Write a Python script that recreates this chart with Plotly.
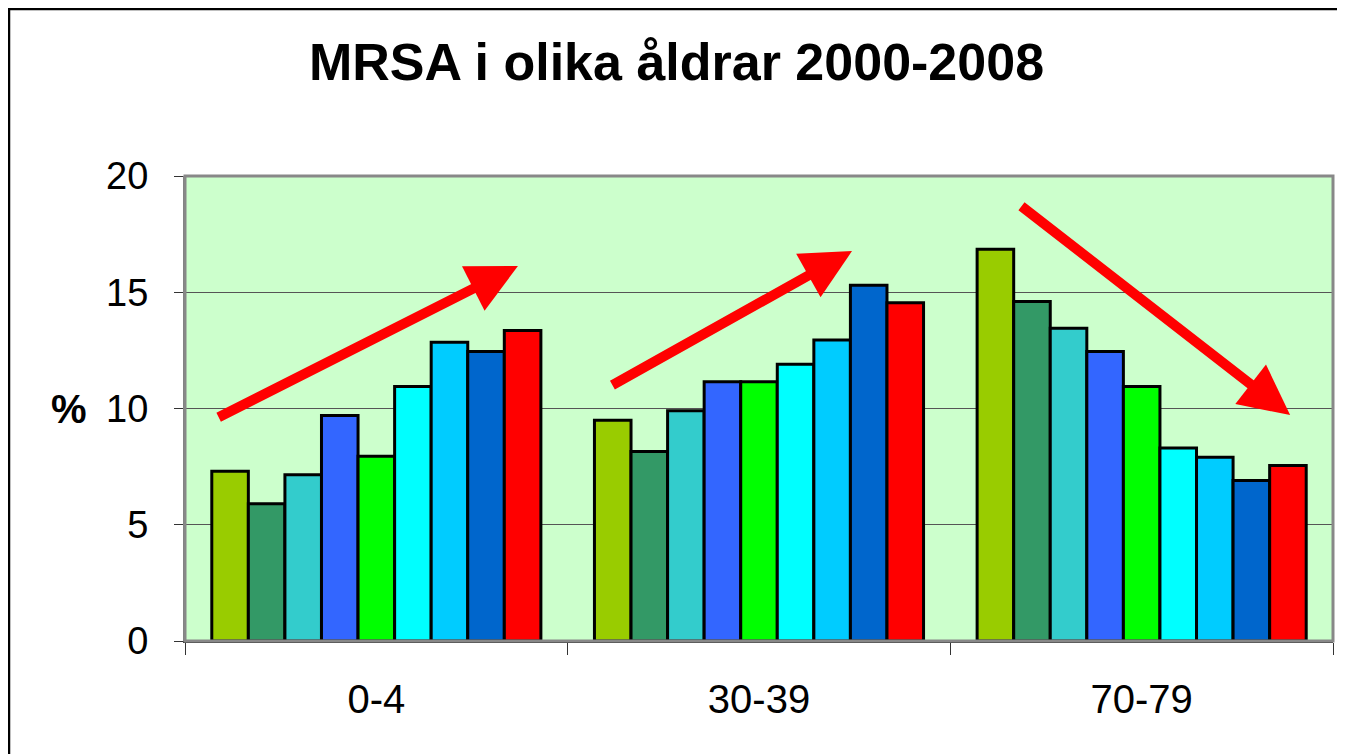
import plotly.graph_objects as go

categories = ["0-4", "30-39", "70-79"]
years = ["2000", "2001", "2002", "2003", "2004", "2005", "2006", "2007", "2008"]
v2000 = [7.3, 9.5, 16.85]
v2001 = [5.9, 8.15, 14.6]
v2002 = [7.15, 9.9, 13.45]
v2003 = [9.7, 11.15, 12.45]
v2004 = [7.95, 11.15, 10.95]
v2005 = [10.95, 11.9, 8.3]
v2006 = [12.85, 12.95, 7.9]
v2007 = [12.45, 15.3, 6.9]
v2008 = [13.35, 14.55, 7.55]
series = [v2000, v2001, v2002, v2003, v2004, v2005, v2006, v2007, v2008]
colors = ["#99CC00", "#339966", "#33CCCC", "#3366FF", "#00FF00",
          "#00FFFF", "#00CCFF", "#0066CC", "#FF0000"]

FONT = "Liberation Sans, Arial, sans-serif"

fig = go.Figure()
for name, vals, col in zip(years, series, colors):
    fig.add_trace(go.Bar(x=categories, y=vals, name=name,
                         marker=dict(color=col, line=dict(color="black", width=3))))

# page is offset by the 8px body margin, so work in figure coords
OFF = 8
W, H = 1345 - OFF, 754 - OFF
L, T = 185 - OFF, 176 - OFF
R = W - (1333 - OFF)
B = H - (641 - OFF)
pw, ph = W - L - R, H - T - B

fig.update_layout(
    width=W, height=H,
    margin=dict(l=L, r=R, t=T, b=B),
    paper_bgcolor="white", plot_bgcolor="#CCFFCC",
    barmode="group", bargap=0.14, bargroupgap=0,
    showlegend=False,
    title=dict(text="<b>MRSA i olika åldrar 2000-2008</b>", x=0.5, xanchor="center",
               y=1 - (62 - OFF) / H, yanchor="middle",
               font=dict(family=FONT, size=52, color="black")),
    font=dict(family=FONT, color="black"),
)
fig.update_yaxes(range=[0, 20], tickvals=[0, 5, 10, 15, 20], showgrid=True,
                 gridcolor="#555555", gridwidth=1, zeroline=False,
                 ticks="outside", ticklen=9, tickcolor="#333333",
                 showline=True, linecolor="#808080", linewidth=2,
                 tickfont=dict(family=FONT, size=38, color="black"), ticklabelstandoff=18)
fig.update_xaxes(range=[-0.5, 2.5], tickson="boundaries", ticks="outside", ticklen=12,
                 tickcolor="#333333", showline=True, linecolor="#333333", linewidth=2,
                 tickfont=dict(family=FONT, size=40, color="black"), ticklabelstandoff=22)

# plot-area border (gray) and outer frame (black, at the figure edge)
fig.add_shape(type="rect", xref="paper", yref="paper", x0=0, y0=0, x1=1, y1=1,
              line=dict(color="#888888", width=3), layer="above")
fig.add_shape(type="rect", xref="paper", yref="paper",
              x0=(1 - L) / pw, y0=-0.5, x1=1.5, y1=(H - B - 1) / ph,
              line=dict(color="black", width=2.5), layer="above")

fig.add_annotation(text="<b>%</b>", xref="paper", yref="y", x=(69 - 185) / pw, y=10,
                   xanchor="center", yanchor="middle",
                   showarrow=False, font=dict(family=FONT, size=40, color="black"))

arrows = [(-0.416, 9.59, 0.370, 16.13), (0.613, 10.97, 1.243, 16.77), (1.682, 18.75, 2.388, 9.72)]
for x0, y0, x1, y1 in arrows:
    fig.add_annotation(x=x1, y=y1, ax=x0, ay=y0, xref="x", yref="y", axref="x", ayref="y",
                       text="", showarrow=True, arrowhead=2, arrowsize=1.0, arrowwidth=10,
                       arrowcolor="#FF0000")

fig.write_html("out.html")
